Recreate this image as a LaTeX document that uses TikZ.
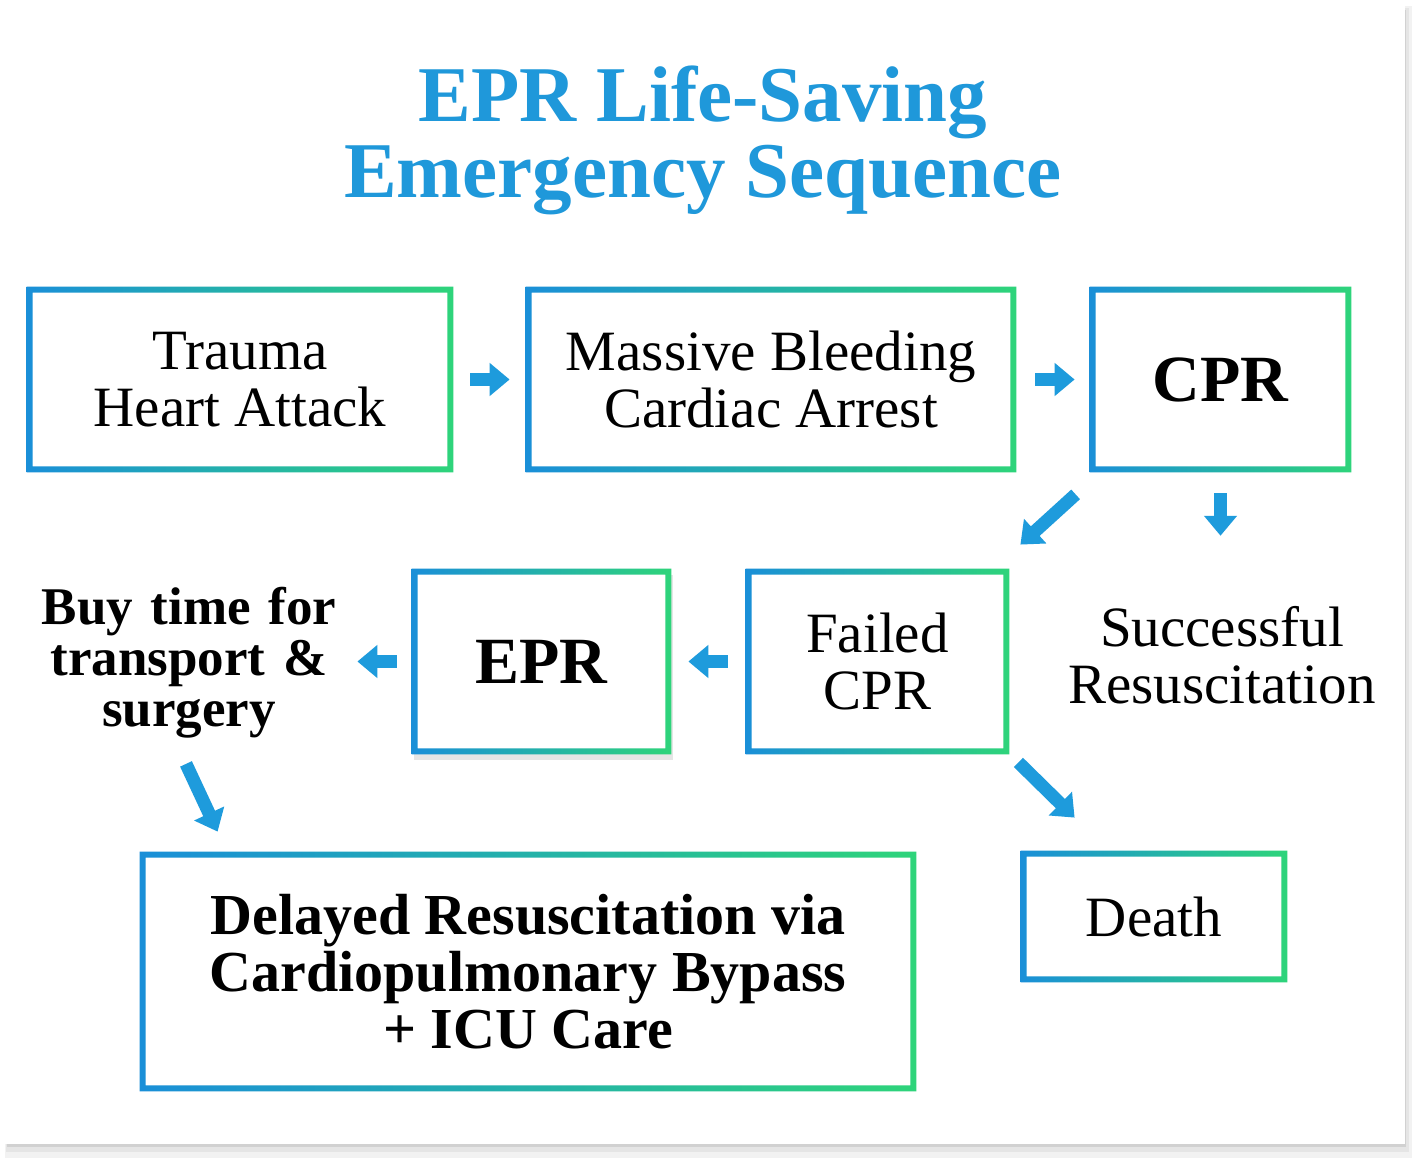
\documentclass[tikz,border=0pt]{standalone}
\usepackage{fontspec}
\setmainfont{Liberation Serif}
\usetikzlibrary{arrows.meta,positioning,calc,shadows}
\definecolor{eprblue}{HTML}{1A8FD8}
\definecolor{eprgreen}{HTML}{2ED47A}
\definecolor{arrowblue}{HTML}{1E9BDC}
\definecolor{titleblue}{HTML}{1F98DA}
% gradient frame round a box node
\newcommand{\gradframe}[1]{%
	\shade[left color=eprblue, right color=eprgreen, even odd rule]
	(#1.south west) rectangle (#1.north east)
	([shift={(3pt,3pt)}]#1.south west) rectangle ([shift={(-3pt,-3pt)}]#1.north east);}
\begin{document}
\begin{tikzpicture}[
			x=0.5pt, y=-0.5pt, % pixel units
			box/.style={fill=white, inner sep=0pt, align=center, font=\fontsize{28.5}{28.5}\selectfont},
			boldbox/.style={box, font=\fontsize{33}{33}\selectfont\bfseries},
			plain/.style={inner sep=0pt, align=center, font=\fontsize{28.5}{28.5}\selectfont},
			blockarrow/.style={arrowblue, line width=6.5pt, -{Triangle[width=16pt,length=10pt]}}]
		% card
		\useasboundingbox (0,0) rectangle (1412,1160);
		\fill[white] (0,0) rectangle (1412,1160);
		\fill[black!5] (5,6) rectangle (1412,1158);
		\fill[black!10] (6,8) rectangle (1409,1152);
		\fill[black!18] (7,10) rectangle (1406,1147);
		\fill[white] (3,3) rectangle (1405,1144);
		% title
		\path 	(703,140) node (title) [inner sep=0pt, align=center, text=titleblue, font=\fontsize{39.5}{38}\selectfont\bfseries] {EPR Life-Saving\\Emergency Sequence};
		% boxes
		\path 	(240,379.5) 	node 	(trauma) [box, minimum width=213pt, minimum height=92.5pt] {Trauma\\Heart Attack}
		        (771,379.5) 	node 	(bleed) [box, minimum width=245pt, minimum height=92.5pt] {Massive Bleeding\\Cardiac Arrest}
		        (1220.5,379.5) 	node 	(cpr) [boldbox, minimum width=130.5pt, minimum height=92.5pt] {CPR}
		        (877.5,661.5) 	node 	(failed) [box, minimum width=131.5pt, minimum height=92.5pt] {Failed\\CPR}
		        (541.5,661.5) 	node 	(epr) [boldbox, minimum width=129.5pt, minimum height=92.5pt,
		                              drop shadow={shadow xshift=1pt, shadow yshift=-3pt, fill=black, opacity=0.1}] {EPR}
		        (528,971.5) 	node 	(delayed) [box, minimum width=388pt, minimum height=119.5pt, font=\fontsize{29}{28.5}\selectfont\bfseries] {Delayed Resuscitation via\\Cardiopulmonary Bypass\\+ ICU Care}
		        (1154,916.5) 	node 	(death) [box, minimum width=133pt, minimum height=65.5pt] {Death};
		\foreach \b in {trauma,bleed,cpr,failed,epr,delayed,death} {\gradframe{\b}}
		% free texts
		\path 	(1222,655) 	node 	(success) [plain] {Successful\\Resuscitation}
		        (189,663) 	node 	(buy) [plain, text width=151pt, font=\fontsize{26.5}{25.5}\selectfont\bfseries] {Buy time for\\transport \&\\surgery};
		% arrows
		\draw [blockarrow, shorten <=8.5pt, shorten >=8pt] (trauma.east) -- (bleed.west);
		\draw [blockarrow, shorten <=9.5pt, shorten >=7.5pt] (bleed.east) -- (cpr.west);
		\draw [blockarrow, shorten <=10.5pt, shorten >=35pt] (cpr.south) -- (cpr.south |- success.north);
		\draw [blockarrow] ([shift={(-14,22)}]cpr.south west) -- ([shift={(11,-24)}]failed.north east);
		\draw [blockarrow, shorten <=9pt, shorten >=8.5pt] (failed.west) -- (epr.west -| epr.east);
		\draw [blockarrow, shorten <=7.5pt, shorten >=8.5pt] (epr.west) -- (epr.west -| buy.east);
		\draw [blockarrow] ([shift={(-3,25)}]buy.south) -- ([shift={(78,-20)}]delayed.north west);
		\draw [blockarrow] ([shift={(9,8)}]failed.south east) -- ([shift={(54,-33)}]death.north west);
	\end{tikzpicture}
\end{document}
